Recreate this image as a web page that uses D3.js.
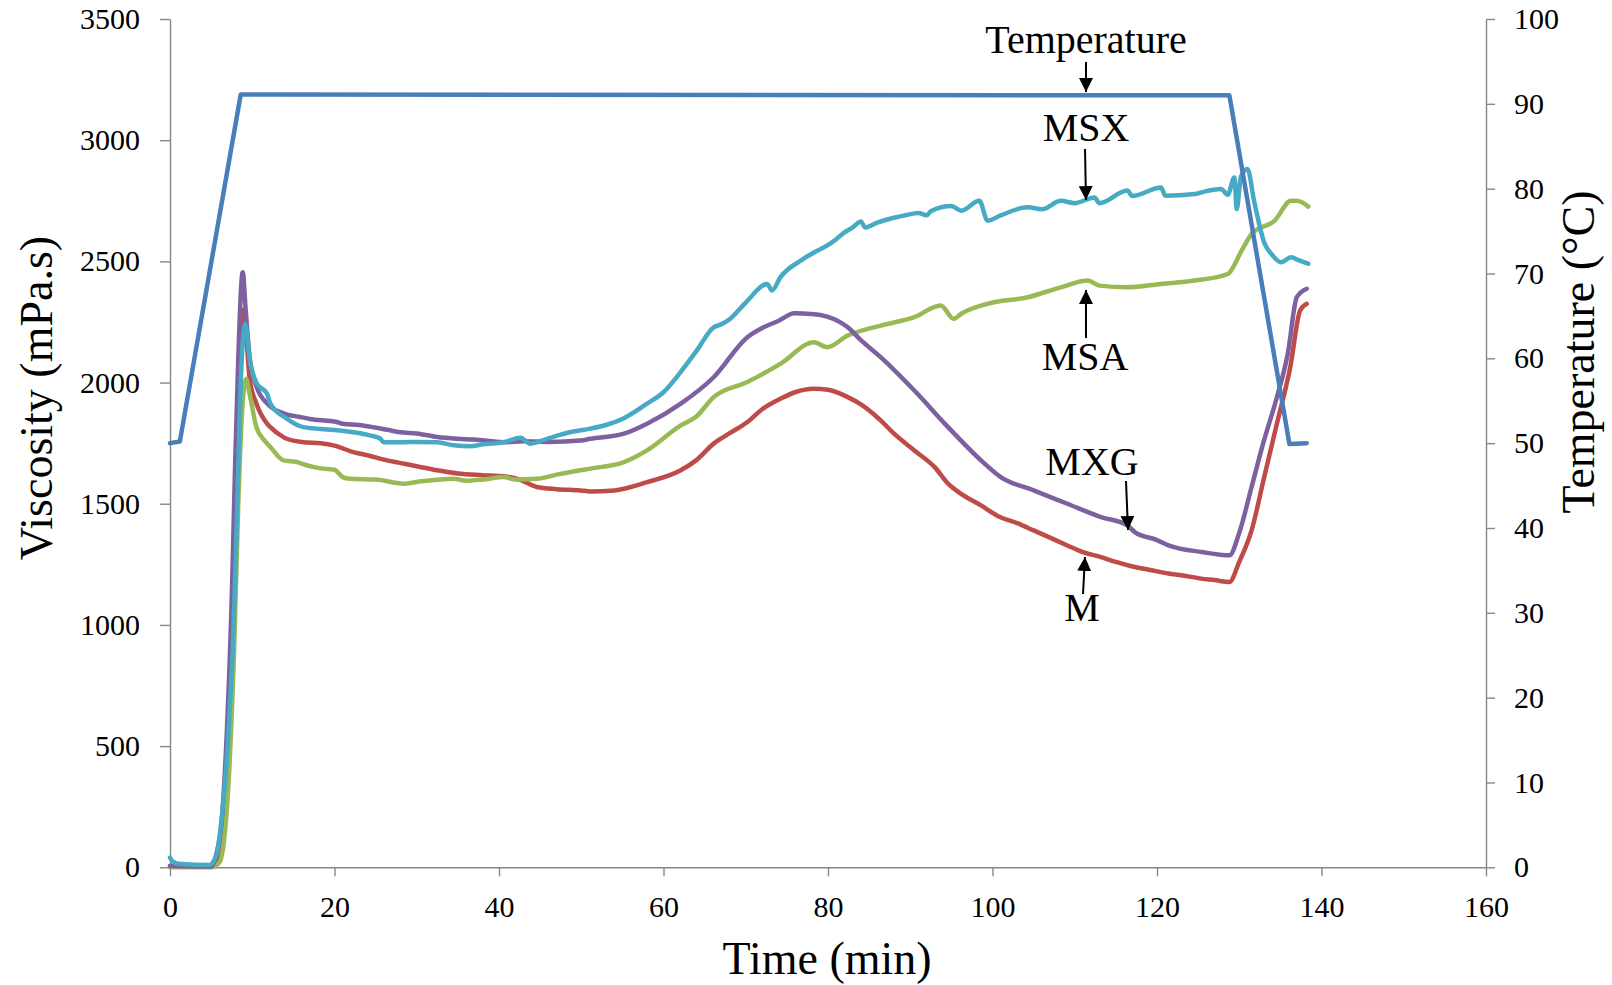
<!DOCTYPE html>
<html><head><meta charset="utf-8">
<script src="https://cdn.jsdelivr.net/npm/d3@7/dist/d3.min.js"></script>
<style>
html,body{margin:0;padding:0;background:#fff;}
svg{display:block;}
svg text{font-family:"Liberation Serif","Times New Roman",serif;}
</style></head>
<body>
<svg id="chart" width="1612" height="985"></svg>
<script>
// ---- data ----
const xTicks = [0,20,40,60,80,100,120,140,160];
const viscTicks = [0,500,1000,1500,2000,2500,3000,3500];
const tempTicks = [0,10,20,30,40,50,60,70,80,90,100];

const temperature = [[0,50],[1.2,50.2],[8.6,91.1],[128.8,91],[136.1,49.9],[138.2,50]];

const seriesM = [[0,5],[2,3],[5,2],[6,40],[6.6,150],[7.2,500],[7.7,1000],[8.1,1500],[8.5,2000],[8.9,2300],[9.3,2180],[9.7,2010],[10.5,1914],[11.8,1831],[12.2,1816],[13.8,1775],[14.2,1768],[16.2,1754],[18.3,1750],[20,1740],[22.3,1713],[24,1700],[26.4,1679],[28.5,1665],[30,1655],[32.5,1638],[35,1625],[38,1618],[40.6,1613],[42.5,1600],[44.6,1569],[47,1560],[49.9,1555],[51.1,1551],[54,1555],[58,1589],[62.1,1638],[64,1680],[66.1,1748],[68,1790],[70.2,1837],[72,1890],[74.2,1933],[76,1960],[78.3,1974],[80,1970],[82.4,1940],[84,1910],[86.4,1844],[88,1790],[90.5,1720],[93,1650],[94.6,1583],[96,1545],[98.6,1493],[100.9,1445],[103,1420],[105,1390],[107,1360],[109.1,1328],[111,1300],[113.2,1280],[115,1260],[117.3,1239],[119,1228],[121.4,1212],[123,1205],[125.4,1191],[127,1185],[128.8,1177],[130,1260],[131.5,1390],[133,1605],[134.5,1820],[136.2,2063],[137.4,2297],[138.2,2325]];

const seriesMXG = [[0,5],[5,3],[5.6,50],[6.3,200],[6.9,550],[7.5,1100],[7.9,1638],[8.3,2100],[8.84,2455],[9.2,2300],[9.7,2100],[10.55,1981],[11.8,1914],[13.8,1873],[15.8,1858],[17,1850],[20.3,1837],[21,1830],[23,1825],[26.4,1805],[28,1795],[30,1790],[32.5,1775],[35,1768],[37,1765],[40.6,1754],[43,1758],[46,1755],[49.9,1761],[51.1,1768],[55.2,1789],[58,1830],[62.1,1913],[66.1,2022],[70.2,2187],[72,2225],[74,2255],[75.9,2286],[78,2283],[79.9,2272],[82.4,2228],[84,2175],[86.4,2105],[90.5,1967],[94.6,1816],[98.6,1679],[101,1610],[105,1555],[109.1,1500],[113.2,1445],[116.4,1411],[117.3,1383],[120,1350],[121.4,1328],[125.4,1301],[128.8,1287],[130,1380],[131.5,1569],[133,1760],[134.5,1930],[135.9,2119],[137,2352],[138.2,2387]];

const seriesMSX = [[0,40],[0.3,25],[1,15],[4.9,10],[5.3,25],[5.7,58],[6.5,277],[7.1,552],[7.7,965],[8.1,1400],[8.6,2000],[9.13,2243],[9.7,2091],[10.55,1996],[11.8,1954],[12.2,1913],[14.2,1851],[16.2,1816],[20.3,1803],[24.3,1782],[25.5,1770],[26,1754],[28.4,1754],[30,1755],[32.5,1754],[34.5,1741],[36.5,1737],[38,1745],[40.6,1754],[42.6,1772],[43.8,1748],[46,1770],[48.7,1796],[51.1,1810],[53,1825],[55,1850],[58,1913],[60,1960],[62,2040],[64,2130],[66.1,2228],[67,2240],[68,2260],[70,2330],[72.6,2407],[73.2,2380],[74.2,2434],[77,2510],[80.8,2586],[82,2620],[83,2640],[84,2665],[84.5,2640],[86,2660],[88,2680],[89.4,2690],[91,2700],[92,2690],[92.5,2707],[95,2728],[96.2,2709],[98.4,2750],[99.4,2668],[101,2690],[104.3,2723],[106,2715],[108.3,2750],[110,2740],[112.4,2764],[113,2740],[116.4,2792],[117,2770],[120.5,2805],[121,2771],[124.6,2778],[126,2790],[127.8,2799],[128.6,2775],[129.4,2846],[129.7,2716],[130.2,2850],[131,2881],[131.8,2750],[133.1,2572],[133.9,2531],[135.1,2496],[136.3,2517],[137.2,2505],[138.4,2490]];

const seriesMSA = [[0,0],[5,0],[6,20],[6.6,120],[7.2,400],[7.8,900],[8.3,1500],[8.8,1900],[9.25,2015],[9.7,1950],[10.5,1816],[11.5,1760],[12.2,1734],[13.8,1679],[15.4,1672],[16.5,1660],[18.3,1646],[20,1640],[21,1610],[21.9,1603],[25,1600],[28.4,1583],[30,1590],[34.5,1603],[36,1595],[38,1600],[40.6,1610],[42,1600],[44.6,1603],[47,1620],[49.9,1638],[51.1,1645],[55.2,1672],[58,1720],[62.1,1823],[64,1860],[66.1,1940],[70.2,2002],[74.2,2077],[78.3,2166],[79.9,2146],[82.4,2194],[86.4,2235],[90.5,2270],[93.7,2318],[95.3,2263],[96.2,2284],[99.4,2325],[104.3,2352],[108.3,2393],[111.6,2421],[113,2400],[116.4,2393],[120.5,2407],[124.6,2421],[128.6,2448],[130.3,2545],[131.5,2613],[134.3,2668],[136.3,2750],[137,2750],[138.4,2726]];

const labels = ["Temperature","MSX","MSA","MXG","M"];
const axisTitles = {x:"Time (min)", yLeft:"Viscosity (mPa.s)", yRight:"Temperature (°C)"};

// ---- chart ----
const svg = d3.select("#chart");
const x = d3.scaleLinear().domain([0,160]).range([170,1486]);
const yV = d3.scaleLinear().domain([0,3500]).range([867.3,19]);
const yT = d3.scaleLinear().domain([0,100]).range([867.3,19]);
const axisColor = "#878787";
const fmt = d3.format("d");
const serif = "'Liberation Serif','Times New Roman',serif";

function styleAxis(g){
  g.attr("font-family",null).attr("font-size",null);
  g.select(".domain").attr("stroke",axisColor).attr("stroke-width",1.4);
  g.selectAll(".tick line").attr("stroke",axisColor).attr("stroke-width",1.4);
  g.selectAll(".tick text").attr("fill","#000").style("font-size","30px")
    .style("font-family",serif);
}
svg.append("g").attr("transform","translate(0,867.3)")
  .call(d3.axisBottom(x).tickValues(xTicks).tickFormat(fmt).tickSize(9).tickPadding(19).tickSizeOuter(0))
  .call(styleAxis);
svg.append("g").attr("transform","translate(170,0)")
  .call(d3.axisLeft(yV).tickValues(viscTicks).tickFormat(fmt).tickSize(10).tickPadding(20).tickSizeOuter(0))
  .call(styleAxis);
svg.append("g").attr("transform","translate(1486,0)")
  .call(d3.axisRight(yT).tickValues(tempTicks).tickFormat(fmt).tickSize(9).tickPadding(19).tickSizeOuter(0))
  .call(styleAxis);

const lineV = d3.line().curve(d3.curveMonotoneX).x(d=>x(d[0])).y(d=>yV(d[1]));
const lineT = d3.line().x(d=>x(d[0])).y(d=>yT(d[1]));
const draws = [
  {data:seriesM, color:"#be4b48", gen:lineV},
  {data:seriesMSA, color:"#98b954", gen:lineV},
  {data:seriesMXG, color:"#7d60a0", gen:lineV},
  {data:seriesMSX, color:"#46aac5", gen:lineV},
  {data:temperature, color:"#4a7ebb", gen:lineT}
];
draws.forEach(s=>{
  svg.append("path").datum(s.data).attr("d",s.gen)
    .attr("fill","none").attr("stroke",s.color).attr("stroke-width",4.5)
    .attr("stroke-linejoin","round").attr("stroke-linecap","round");
});

// axis titles
svg.append("text").attr("x",827).attr("y",974).attr("text-anchor","middle")
  .style("font-size","46px").text(axisTitles.x);
svg.append("text").attr("transform","translate(52,398) rotate(-90)").attr("text-anchor","middle")
  .style("font-size","46px").text(axisTitles.yLeft);
svg.append("text").attr("transform","translate(1594,352) rotate(-90)").attr("text-anchor","middle")
  .style("font-size","46px").text(axisTitles.yRight);

// annotations
svg.append("defs").append("marker").attr("id","ah").attr("viewBox","0 0 10 10")
  .attr("refX",10).attr("refY",5).attr("markerWidth",14).attr("markerHeight",14)
  .attr("markerUnits","userSpaceOnUse").attr("orient","auto")
  .append("path").attr("d","M0,0 L10,5 L0,10 Z").attr("fill","#000");
const ann = [
  {text:labels[0], tx:1086, ty:53, x1:1086, y1:62, x2:1086, y2:92},
  {text:labels[1], tx:1086, ty:141, x1:1085, y1:149, x2:1086, y2:200},
  {text:labels[2], tx:1085, ty:370, x1:1086, y1:338, x2:1086, y2:290},
  {text:labels[3], tx:1092, ty:475, x1:1126, y1:481, x2:1128, y2:530},
  {text:labels[4], tx:1082, ty:621, x1:1083, y1:594, x2:1085, y2:557}
];
ann.forEach(a=>{
  svg.append("text").attr("x",a.tx).attr("y",a.ty).attr("text-anchor","middle")
    .style("font-size","40px").text(a.text);
  svg.append("line").attr("x1",a.x1).attr("y1",a.y1).attr("x2",a.x2).attr("y2",a.y2)
    .attr("stroke","#000").attr("stroke-width",2).attr("marker-end","url(#ah)");
});
</script>
</body></html>
